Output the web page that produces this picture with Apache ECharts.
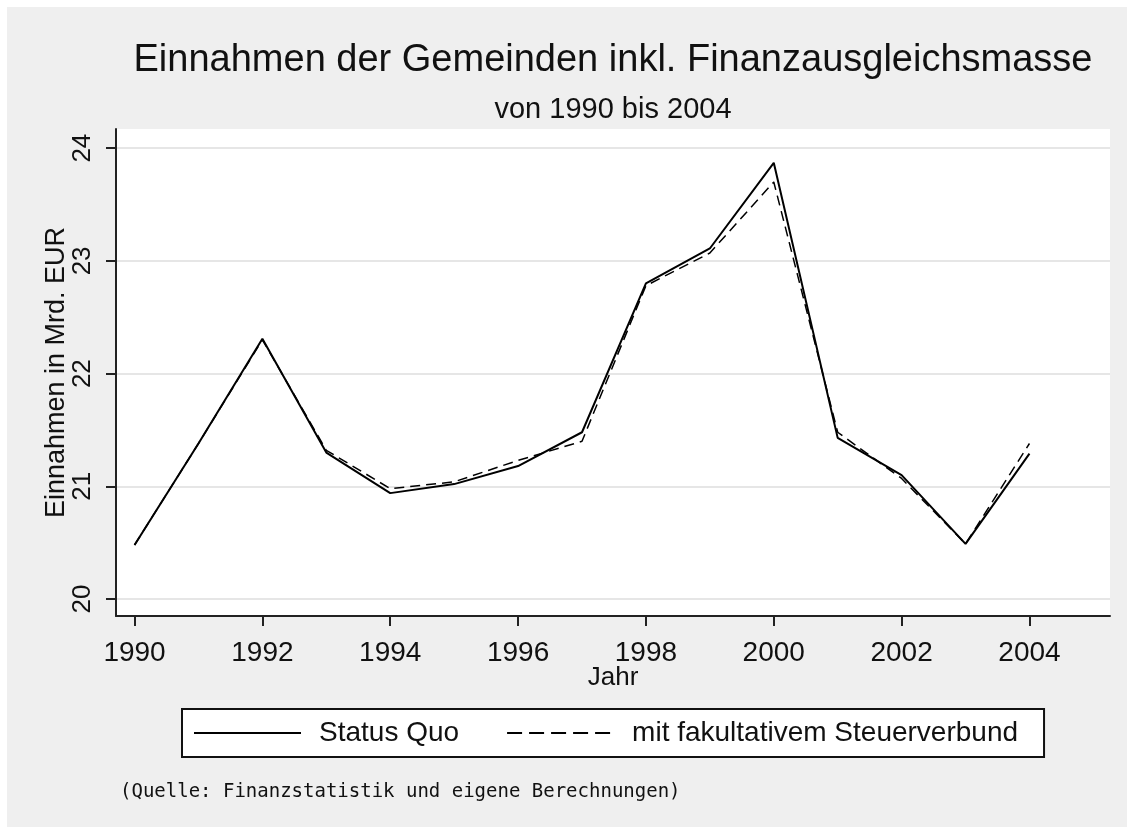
<!DOCTYPE html>
<html>
<head>
<meta charset="utf-8">
<script src="https://cdn.jsdelivr.net/npm/echarts@6/dist/echarts.min.js"></script>
<style>
    html, body { margin: 0; padding: 0; background: #fff; }
    #chart { position: absolute; left: 7px; top: 7px; width: 1120px; height: 820px; }
</style>
</head>
<body>
<div id="chart"></div>
<script>
// Jahre und Werte (Mrd. EUR)
const years = [1990, 1991, 1992, 1993, 1994, 1995, 1996, 1997, 1998, 1999, 2000, 2001, 2002, 2003, 2004];
const statusQuo = [20.48, 21.38, 22.31, 21.30, 20.94, 21.02, 21.18, 21.48, 22.80, 23.11, 23.87, 21.43, 21.10, 20.49, 21.29];
const steuerverbund = [20.48, 21.38, 22.30, 21.32, 20.98, 21.04, 21.23, 21.40, 22.78, 23.07, 23.70, 21.48, 21.07, 20.49, 21.38];
const xTicks = [1990, 1992, 1994, 1996, 1998, 2000, 2002, 2004];
const yTicks = [20, 21, 22, 23, 24];
const seriesNames = ['Status Quo', 'mit fakultativem Steuerverbund'];

const font = 'Liberation Sans, Arial, sans-serif';

function pairs(values) {
    return years.map((y, i) => [y, values[i]]);
}

let myChart = echarts.init(document.getElementById('chart'));

let option = {
    backgroundColor: '#efefef',
    animation: false,
    title: [
        {
            text: 'Einnahmen der Gemeinden inkl. Finanzausgleichsmasse',
            left: 606,
            top: 35,
            textAlign: 'center',
            padding: 0,
            textStyle: { fontFamily: font, fontSize: 38, fontWeight: 'normal', color: '#111' }
        },
        {
            text: 'von 1990 bis 2004',
            left: 606,
            top: 88,
            textAlign: 'center',
            padding: 0,
            textStyle: { fontFamily: font, fontSize: 29, fontWeight: 'normal', color: '#111' }
        },
        {
            text: '(Quelle: Finanzstatistik und eigene Berechnungen)',
            left: 113,
            top: 776,
            padding: 0,
            textStyle: { fontFamily: 'DejaVu Sans Mono, monospace', fontSize: 19, fontWeight: 'normal', color: '#111' }
        }
    ],
    legend: {
        data: [
            { name: seriesNames[0] },
            { name: seriesNames[1], lineStyle: { type: [15, 7], width: 2 } }
        ],
        left: 175,
        top: 702,
        orient: 'horizontal',
        backgroundColor: '#fff',
        borderColor: '#111',
        borderWidth: 2,
        borderRadius: 0,
        padding: [10, 26, 10, 11],
        itemWidth: 107,
        itemHeight: 28,
        itemGap: 47,
        itemStyle: { opacity: 0 },
        textStyle: { fontFamily: font, fontSize: 28, color: '#111', padding: [0, 0, 0, 13] }
    },
    grid: {
        left: 109,
        right: 17,
        top: 122,
        bottom: 211,
        show: true,
        backgroundColor: '#fff',
        borderWidth: 0,
        containLabel: false
    },
    xAxis: {
        type: 'value',
        min: 1989.71,
        max: 2005.26,
        name: 'Jahr',
        nameLocation: 'middle',
        nameGap: 49,
        nameMoveOverlap: false,
        nameTextStyle: { fontFamily: font, fontSize: 26, color: '#111' },
        axisLine: { onZero: false, lineStyle: { color: '#222', width: 2 } },
        axisTick: { show: true, length: 10, customValues: xTicks, lineStyle: { color: '#222', width: 2 } },
        axisLabel: {
            customValues: xTicks,
            margin: 23,
            fontFamily: font,
            fontSize: 28,
            color: '#111',
            formatter: v => String(v)
        },
        splitLine: { show: false }
    },
    yAxis: {
        type: 'value',
        min: 19.85,
        max: 24.17,
        name: 'Einnahmen in Mrd. EUR',
        nameLocation: 'middle',
        nameGap: 46,
        nameMoveOverlap: false,
        nameTextStyle: { fontFamily: font, fontSize: 27, color: '#111' },
        axisLine: { show: true, lineStyle: { color: '#222', width: 2 } },
        axisTick: { show: true, length: 10, customValues: yTicks, lineStyle: { color: '#222', width: 2 } },
        axisLabel: {
            customValues: yTicks,
            rotate: 90,
            margin: 20,
            fontFamily: font,
            fontSize: 26,
            color: '#111',
            formatter: v => String(v)
        },
        splitLine: { show: true, lineStyle: { color: '#e6e6e6', width: 2 } }
    },
    series: [
        {
            name: seriesNames[0],
            type: 'line',
            data: pairs(statusQuo),
            symbol: 'none',
            smooth: false,
            color: '#000',
            lineStyle: { color: '#000', width: 2, type: 'solid' }
        },
        {
            name: seriesNames[1],
            type: 'line',
            data: pairs(steuerverbund),
            symbol: 'none',
            smooth: false,
            color: '#000',
            lineStyle: { color: '#000', width: 1.5, type: [10, 6] }
        }
    ]
};

myChart.setOption(option);
</script>
</body>
</html>
